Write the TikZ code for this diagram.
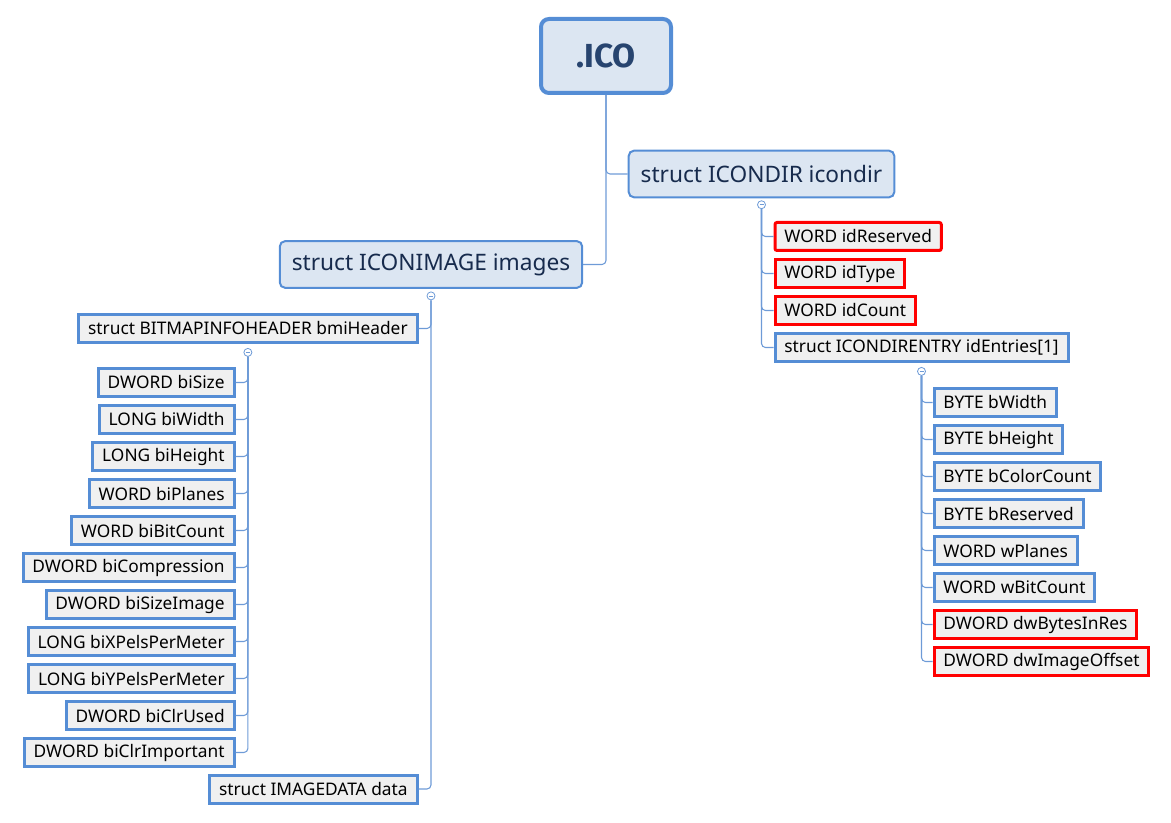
\documentclass[tikz,border=0pt]{standalone}
\usepackage{fontspec}
\setmainfont{Noto Sans}
\newfontfamily\icofont{Fira Sans}
\usetikzlibrary{positioning}
\definecolor{mapblue}{RGB}{85,141,213}
\definecolor{linkblue}{RGB}{110,155,215}
\definecolor{mapfill}{RGB}{220,230,242}
\definecolor{leaffill}{RGB}{240,240,240}
\definecolor{mapred}{RGB}{255,0,0}
\definecolor{maptext}{RGB}{23,43,77}
\tikzstyle{root} = [rectangle, rounded corners=6pt, draw=mapblue, line width=3pt, fill=mapfill, minimum width=97.5pt, minimum height=55.5pt, text=maptext!75!mapblue, font=\icofont\bfseries\fontsize{25}{28}\selectfont]
\tikzstyle{topic} = [rectangle, rounded corners=4pt, draw=mapblue, line width=1.5pt, fill=mapfill, minimum height=35pt, inner xsep=9pt, text=maptext, font=\fontsize{17}{19}\selectfont]
\tikzstyle{leaf} = [rectangle, draw=mapblue, line width=2.25pt, fill=leaffill, minimum height=21pt, inner xsep=7pt, text=black, font=\fontsize{13}{15}\selectfont]
\tikzstyle{keyleaf} = [leaf, draw=mapred, rounded corners=1.5pt]
\tikzstyle{fold} = [circle, draw=linkblue, fill=white, line width=0.6pt, inner sep=0pt, minimum size=6pt,
    path picture={\draw[linkblue, line width=0.5pt] ([xshift=1.5pt]path picture bounding box.west) -- ([xshift=-1.5pt]path picture bounding box.east);}]
\tikzstyle{branch} = [draw=linkblue, line width=0.8pt, rounded corners=3pt]

\begin{document}
\begin{tikzpicture}[x=0.75pt, y=-0.75pt, node distance=4.5pt]
		\useasboundingbox (0,0) rectangle (1171,823);

		% Nodes
		\node (ico) [root] at (606,56) {.ICO};
		\node (icondir) [topic] at (761.5,174) {struct ICONDIR icondir};
		\node (images) [topic] at (431,264.5) {struct ICONIMAGE images};

		\node (foldR) [fold, below=1.5pt of icondir] {};
		\node (idReserved) [keyleaf, anchor=west] at (773.5,236.5) {WORD idReserved};
		\node (idType) [keyleaf, rounded corners=0pt, below=of idReserved.south west, anchor=north west] {WORD idType};
		\node (idCount) [keyleaf, rounded corners=0pt, below=of idType.south west, anchor=north west] {WORD idCount};
		\node (idEntries) [leaf, below=of idCount.south west, anchor=north west] {struct ICONDIRENTRY idEntries[1]};

		\node (foldE) [fold, below=3pt of idEntries] {};
		\node (bWidth) [leaf, anchor=west] at (932.5,402.5) {BYTE bWidth};
		\node (bHeight) [leaf, below=of bWidth.south west, anchor=north west] {BYTE bHeight};
		\node (bColorCount) [leaf, below=of bHeight.south west, anchor=north west] {BYTE bColorCount};
		\node (bReserved) [leaf, below=of bColorCount.south west, anchor=north west] {BYTE bReserved};
		\node (wPlanes) [leaf, below=of bReserved.south west, anchor=north west] {WORD wPlanes};
		\node (wBitCount) [leaf, below=of wPlanes.south west, anchor=north west] {WORD wBitCount};
		\node (dwBytesInRes) [keyleaf, rounded corners=0pt, below=of wBitCount.south west, anchor=north west] {DWORD dwBytesInRes};
		\node (dwImageOffset) [keyleaf, rounded corners=0pt, below=of dwBytesInRes.south west, anchor=north west] {DWORD dwImageOffset};

		\node (foldL) [fold, below=2pt of images] {};
		\node (bmiHeader) [leaf, anchor=east] at (418.5,328.5) {struct BITMAPINFOHEADER bmiHeader};
		\node (data) [leaf, anchor=east] at (418.5,789) {struct IMAGEDATA data};

		\node (foldH) [fold, below=3pt of bmiHeader] {};
		\node (biSize) [leaf, anchor=east] at (235.5,382.5) {DWORD biSize};
		\node (biWidth) [leaf, below=of biSize.south east, anchor=north east] {LONG biWidth};
		\node (biHeight) [leaf, below=of biWidth.south east, anchor=north east] {LONG biHeight};
		\node (biPlanes) [leaf, below=of biHeight.south east, anchor=north east] {WORD biPlanes};
		\node (biBitCount) [leaf, below=of biPlanes.south east, anchor=north east] {WORD biBitCount};
		\node (biCompression) [leaf, below=of biBitCount.south east, anchor=north east] {DWORD biCompression};
		\node (biSizeImage) [leaf, below=of biCompression.south east, anchor=north east] {DWORD biSizeImage};
		\node (biXPelsPerMeter) [leaf, below=of biSizeImage.south east, anchor=north east] {LONG biXPelsPerMeter};
		\node (biYPelsPerMeter) [leaf, below=of biXPelsPerMeter.south east, anchor=north east] {LONG biYPelsPerMeter};
		\node (biClrUsed) [leaf, below=of biYPelsPerMeter.south east, anchor=north east] {DWORD biClrUsed};
		\node (biClrImportant) [leaf, below=of biClrUsed.south east, anchor=north east] {DWORD biClrImportant};

		% Links
		\begin{scope}[on background layer/.try]
		\draw [branch] (ico.south) |- (icondir.west);
		\draw [branch] (ico.south) |- (images.east);

		\foreach \n in {idReserved, idType, idCount, idEntries}
			\draw [branch] (foldR.south) |- (\n.west);
		\foreach \n in {bWidth, bHeight, bColorCount, bReserved, wPlanes, wBitCount, dwBytesInRes, dwImageOffset}
			\draw [branch] (foldE.south) |- (\n.west);
		\foreach \n in {bmiHeader, data}
			\draw [branch] (foldL.south) |- (\n.east);
		\foreach \n in {biSize, biWidth, biHeight, biPlanes, biBitCount, biCompression, biSizeImage, biXPelsPerMeter, biYPelsPerMeter, biClrUsed, biClrImportant}
			\draw [branch] (foldH.south) |- (\n.east);
		\end{scope}
	\end{tikzpicture}
\end{document}
